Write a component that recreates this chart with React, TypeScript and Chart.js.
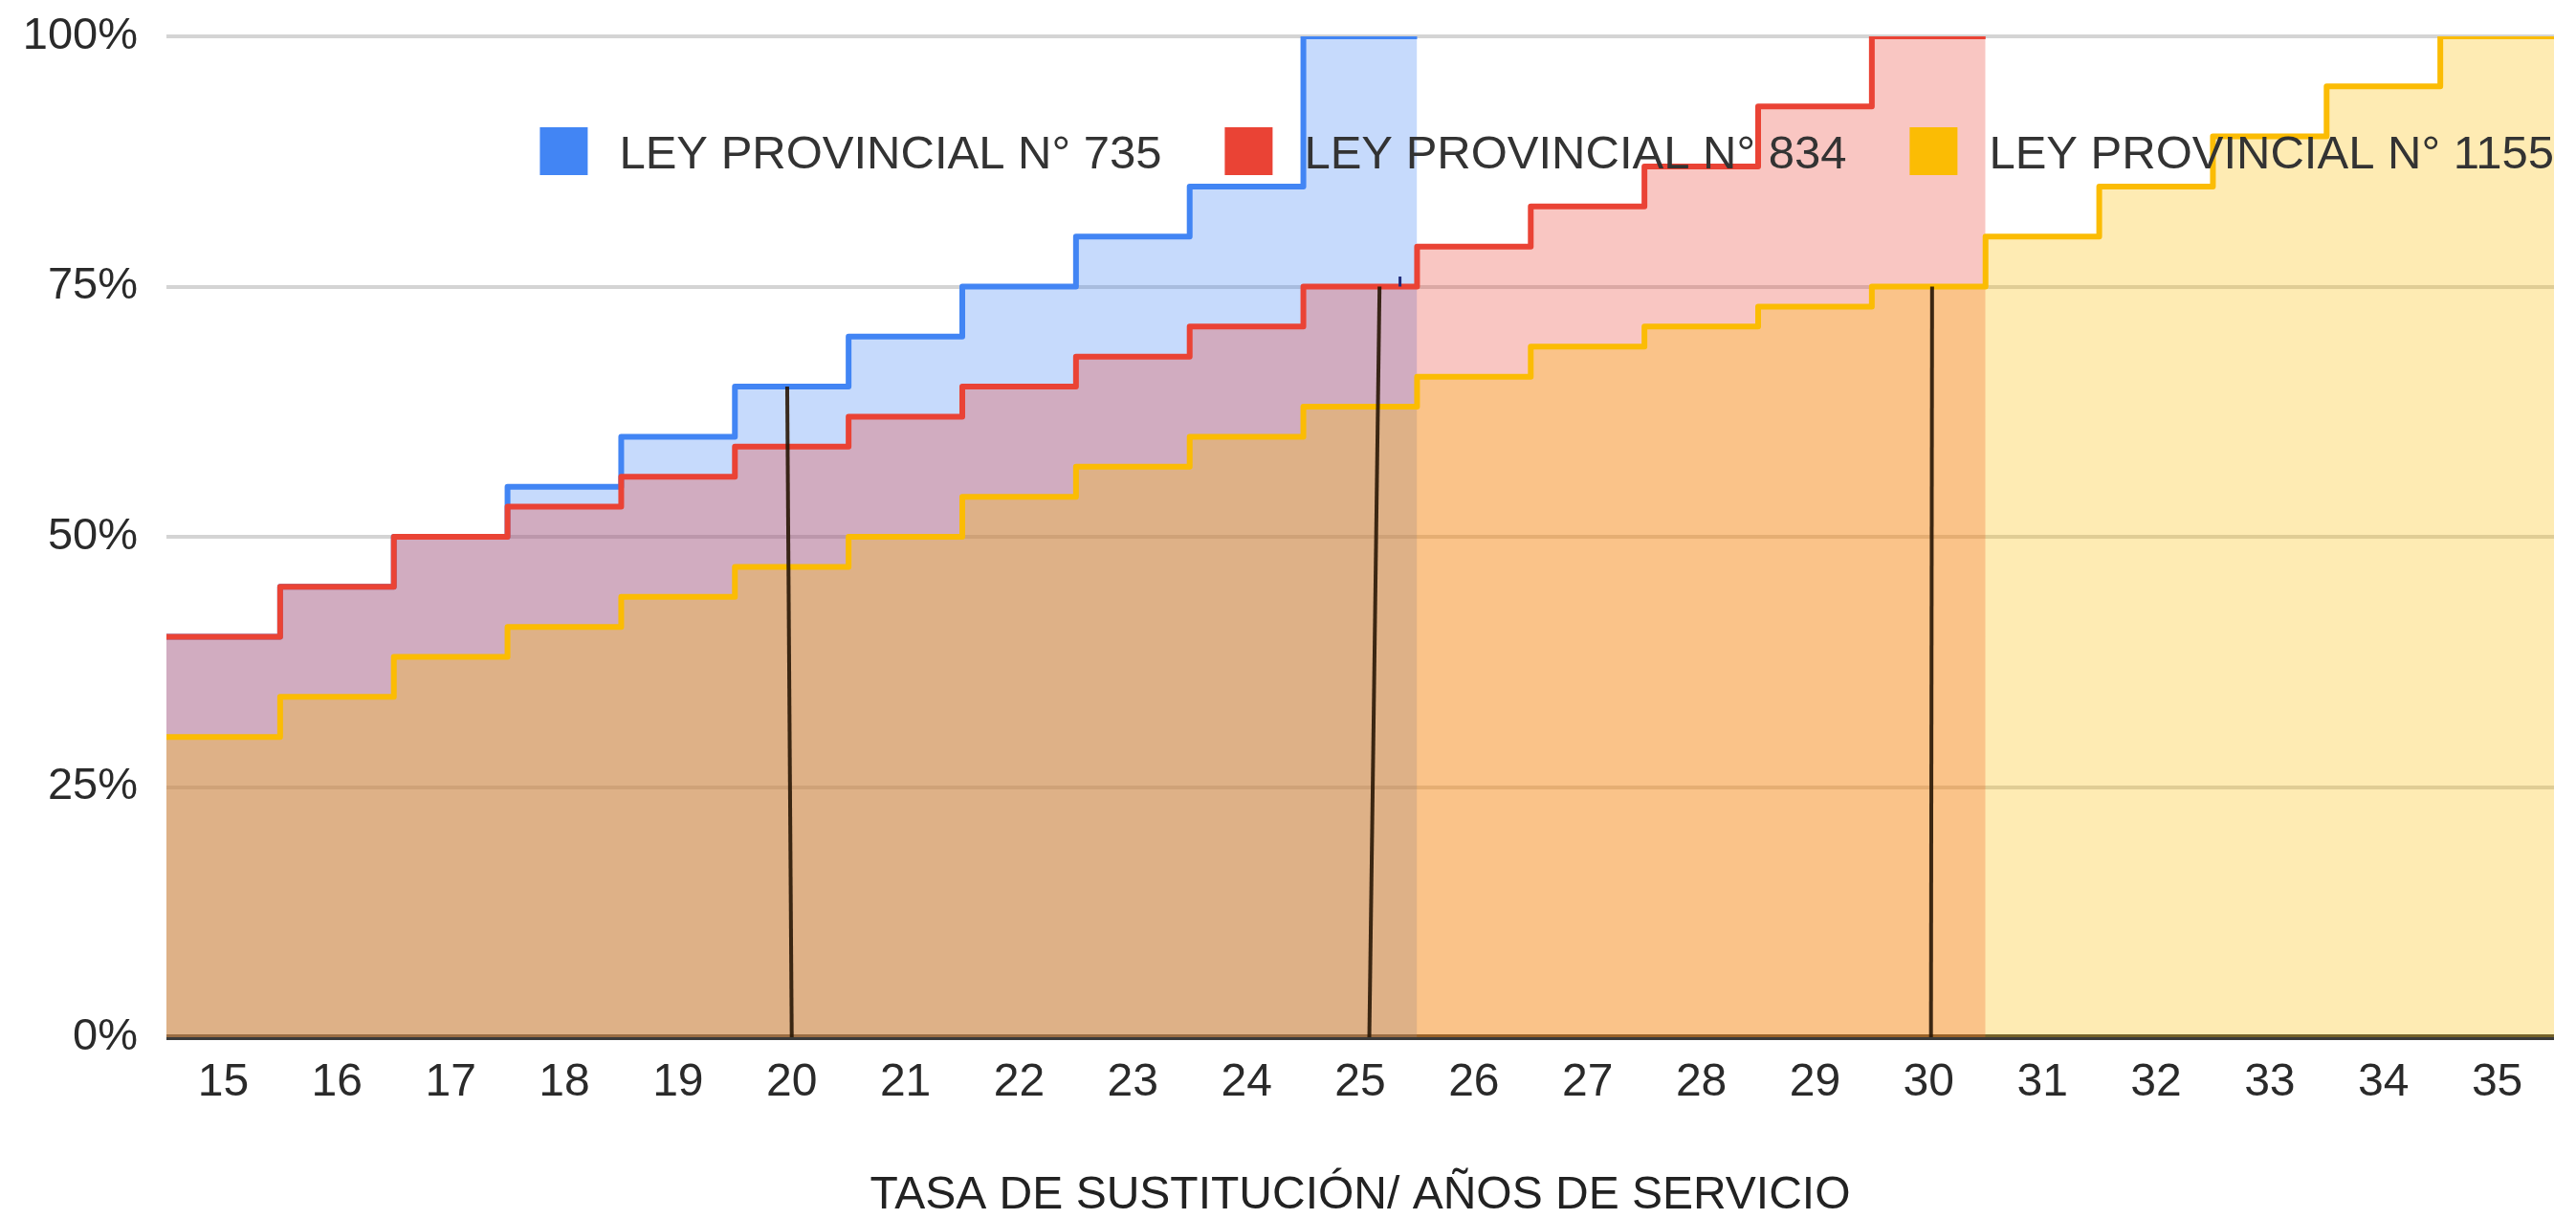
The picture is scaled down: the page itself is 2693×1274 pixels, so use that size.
import React, { useEffect, useRef } from 'react';
import { Chart, registerables } from 'chart.js';

Chart.register(...registerables);

// ---- data ----
const years = [15, 16, 17, 18, 19, 20, 21, 22, 23, 24, 25, 26, 27, 28, 29, 30, 31, 32, 33, 34, 35];
const ley735 = [40, 45, 50, 55, 60, 65, 70, 75, 80, 85, 100];
const ley834 = [40, 45, 50, 53, 56, 59, 62, 65, 68, 71, 75, 79, 83, 87, 93, 100];
const ley1155 = [30, 34, 38, 41, 44, 47, 50, 54, 57, 60, 63, 66, 69, 71, 73, 75, 80, 85, 90, 95, 100];
const seriesLabels = ['LEY PROVINCIAL N° 735', 'LEY PROVINCIAL N° 834', 'LEY PROVINCIAL N° 1155'];
const seriesColors = ['#4285F4', '#EA4335', '#FBBC04'];
const yTickValues = [0, 25, 50, 75, 100];
// hand-drawn vertical marker lines (x at bottom, x at top, value at top)
const markerBottomYears = [20.0, 25.08, 30.02];
const markerTopYears = [19.96, 25.17, 30.03];
const markerTopValues = [65, 75, 75];
// small stray blue tick
const tickMarkYear = [25.35];
const tickMarkRange = [75, 76];
const xAxisTitle = 'TASA DE SUSTITUCIÓN/ AÑOS DE SERVICIO';

const FONT = "'Liberation Sans', Arial, Helvetica, sans-serif";
const LEGEND_FONT = 49;
const LEGEND_BOX = 50;
const LEGEND_GAP = 33;
const LEGEND_ITEM_GAP = 66;

function rgba(hex: string, a: number) {
  const n = parseInt(hex.slice(1), 16);
  return `rgba(${(n >> 16) & 255},${(n >> 8) & 255},${n & 255},${a})`;
}

// each value occupies its whole category band
function stepPoints(values: number[]) {
  const pts = values.map((v, i) => ({ x: years[i] - 0.5, y: v }));
  pts.push({ x: years[values.length - 1] + 0.5, y: values[values.length - 1] });
  return pts;
}

// legend drawn inside the plot area, right-aligned
const insideLegend = {
  id: 'insideLegend',
  afterDatasetsDraw(chart: any) {
    const { ctx, chartArea } = chart;
    ctx.save();
    ctx.font = `${LEGEND_FONT}px ${FONT}`;
    const widths = seriesLabels.map((t) => ctx.measureText(t).width);
    const total =
      widths.reduce((s, w) => s + LEGEND_BOX + LEGEND_GAP + w, 0) + LEGEND_ITEM_GAP * (seriesLabels.length - 1);
    let x = chartArea.right - total;
    const cy = chartArea.top + 120;
    seriesLabels.forEach((t, i) => {
      ctx.fillStyle = seriesColors[i];
      ctx.fillRect(x, cy - LEGEND_BOX / 2, LEGEND_BOX, LEGEND_BOX);
      x += LEGEND_BOX + LEGEND_GAP;
      ctx.fillStyle = '#333';
      ctx.textAlign = 'left';
      ctx.textBaseline = 'alphabetic';
      ctx.fillText(t, x, cy + LEGEND_FONT * 0.358);
      x += widths[i] + LEGEND_ITEM_GAP;
    });
    ctx.restore();
  },
};

export default function App() {
  const ref = useRef<HTMLCanvasElement | null>(null);

  useEffect(() => {
    if (!ref.current) return;
    const allSeries = [ley735, ley834, ley1155];
    const datasets: any[] = allSeries.map((vals, i) => ({
      label: seriesLabels[i],
      data: stepPoints(vals),
      borderColor: seriesColors[i],
      backgroundColor: rgba(seriesColors[i], 0.3),
      borderWidth: 6,
      borderJoinStyle: 'round',
      stepped: 'before',
      fill: 'origin',
      pointRadius: 0,
      order: 3 - i,
    }));
    markerBottomYears.forEach((yr, i) => {
      datasets.push({
        data: [
          { x: markerTopYears[i], y: markerTopValues[i] },
          { x: yr, y: 0 },
        ],
        borderColor: 'rgba(40,22,5,0.9)',
        borderWidth: 4,
        fill: false,
        pointRadius: 0,
        order: 0,
      });
    });
    tickMarkYear.forEach((yr) => {
      datasets.push({
        data: [
          { x: yr, y: tickMarkRange[0] },
          { x: yr, y: tickMarkRange[1] },
        ],
        borderColor: '#1f2a7a',
        borderWidth: 3,
        fill: false,
        pointRadius: 0,
        order: 0,
      });
    });

    const chart = new Chart(ref.current, {
      type: 'line',
      data: { datasets },
      plugins: [insideLegend],
      options: {
        responsive: false,
        animation: false,
        layout: { padding: { left: 0, right: 23, top: 38, bottom: 0 } },
        font: { family: FONT },
        scales: {
          x: {
            type: 'linear',
            min: years[0] - 0.5,
            max: years[years.length - 1] + 0.5,
            afterBuildTicks: (s: any) => {
              s.ticks = years.map((v) => ({ value: v }));
            },
            afterFit: (s: any) => {
              s.height = 190;
              s.paddingLeft = 0;
              s.paddingRight = 0;
            },
            grid: { display: false, drawTicks: false },
            border: { display: false },
            ticks: {
              autoSkip: false,
              maxRotation: 0,
              padding: 19,
              color: '#2a2a2a',
              font: { family: FONT, size: 48 },
              callback: (v: any) => String(v),
            },
            title: {
              display: true,
              text: xAxisTitle,
              color: '#222',
              font: { family: FONT, size: 48, lineHeight: 1 },
              padding: { top: 0, bottom: 0 },
            },
          },
          y: {
            min: 0,
            max: 100,
            afterBuildTicks: (s: any) => {
              s.ticks = yTickValues.map((v) => ({ value: v }));
            },
            afterFit: (s: any) => {
              s.width = 174;
              s.paddingTop = 0;
              s.paddingBottom = 0;
            },
            grid: {
              drawTicks: false,
              color: (c: any) => (c.tick && c.tick.value === 0 ? '#3a3a3a' : '#d4d4d4'),
              lineWidth: (c: any) => (c.tick && c.tick.value === 0 ? 6 : 4),
            },
            border: { display: false },
            ticks: {
              padding: 30,
              color: '#2a2a2a',
              font: { family: FONT, size: 47 },
              callback: (v: any) => `${v}%`,
            },
          },
        },
        plugins: {
          tooltip: { enabled: false },
          legend: { display: false },
        },
      } as any,
    });
    return () => chart.destroy();
  }, []);

  return (
    <div style={{ position: 'fixed', left: 0, top: 0, width: 2693, height: 1274, background: '#fff' }}>
      <canvas ref={ref} width={2693} height={1274} style={{ display: 'block' }} />
    </div>
  );
}
